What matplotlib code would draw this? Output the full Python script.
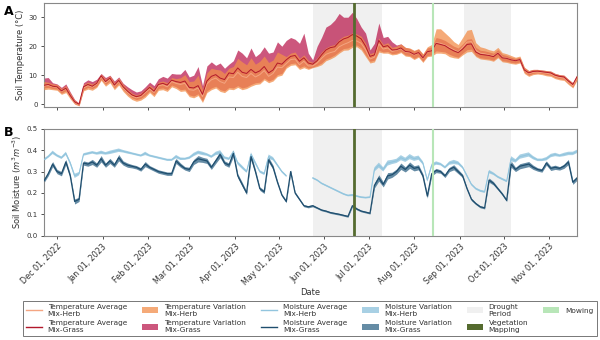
import numpy as np
import pandas as pd
import matplotlib
matplotlib.use("Agg")
import matplotlib.pyplot as plt
import matplotlib.dates as mdates
from matplotlib.lines import Line2D
from matplotlib.patches import Patch

nan = np.nan

# readings every 3 days, starting 22 Nov 2022
dates = pd.date_range("2022-11-22", periods=122, freq="3D")

temp_grass_mean = [
    6.5, 6.8, 6.2, 6.0, 4.6, 5.5, 3.0, 0.8, 0.0, 6.0,
    6.8, 6.2, 7.2, 9.8, 7.8, 9.0, 6.6, 8.2, 6.0, 4.5,
    3.2, 2.6, 3.0, 4.4, 5.8, 4.5, 6.8, 7.2, 6.6, 8.3,
    7.8, 7.5, 8.0, 5.8, 5.6, 6.4, 3.4, 8.0, 9.6, 10.2,
    9.0, 8.5, 10.8, 10.5, 12.5, 11.0, 10.6, 12.0, 10.8, 11.5,
    13.0, 10.8, 11.8, 14.2, 13.8, 15.3, 16.5, 16.8, 14.8, 16.0,
    14.2, 13.8, 15.0, 17.0, 18.7, 19.5, 19.8, 21.5, 22.5, 23.0,
    24.0, 23.5, 22.5, 20.0, 16.5, 17.0, 22.0, 19.8, 20.2, 18.7,
    18.8, 19.4, 18.2, 18.0, 17.2, 17.8, 16.0, 18.1, 18.4, 21.0,
    20.6, 20.2, 19.2, 18.4, 17.8, 19.0, 20.6, 20.8, 18.0, 17.2,
    17.0, 16.8, 16.4, 17.6, 16.0, 15.8, 15.3, 15.0, 15.4, 11.8,
    10.8, 11.3, 11.4, 11.2, 11.0, 10.8, 10.0, 9.6, 9.4, 8.0,
    6.8, 9.6]
temp_grass_lo = [
    5.6, 5.8, 5.4, 5.2, 3.8, 4.6, 2.2, 0.2, -0.4, 5.0,
    5.8, 5.4, 6.2, 8.6, 6.8, 8.0, 5.6, 7.2, 5.0, 3.4,
    2.2, 1.6, 2.0, 3.0, 4.6, 3.2, 5.4, 5.6, 5.0, 6.6,
    6.0, 5.0, 5.2, 3.2, 2.8, 3.6, 1.2, 4.6, 5.6, 6.2,
    5.0, 4.6, 5.8, 5.6, 6.4, 5.6, 6.0, 6.8, 7.4, 7.6,
    9.0, 8.0, 8.6, 10.2, 10.6, 13.0, 14.0, 14.2, 12.6, 13.2,
    12.4, 12.8, 13.4, 14.2, 15.6, 16.2, 17.0, 18.2, 19.2, 19.4,
    20.2, 20.4, 19.4, 17.0, 14.8, 15.2, 18.6, 18.0, 18.2, 17.4,
    17.6, 18.2, 17.0, 16.8, 15.8, 16.6, 14.8, 16.8, 17.0, 18.4,
    18.2, 18.0, 17.2, 16.6, 16.2, 17.6, 18.8, 19.0, 16.8, 16.0,
    15.8, 15.6, 15.2, 16.4, 15.0, 14.8, 14.4, 14.2, 14.6, 11.0,
    10.0, 10.6, 10.8, 10.6, 10.2, 10.0, 9.2, 8.8, 8.6, 7.2,
    6.0, 8.8]
temp_grass_hi = [
    9.0, 9.2, 7.4, 7.0, 5.8, 7.0, 4.2, 1.6, 0.4, 7.4,
    8.4, 7.8, 8.6, 10.6, 9.2, 10.0, 8.0, 9.4, 7.2, 6.0,
    5.0, 4.2, 4.6, 6.0, 7.6, 6.4, 8.8, 9.6, 9.0, 10.6,
    10.4, 10.4, 12.0, 9.4, 10.0, 13.0, 6.4, 13.2, 14.6, 13.4,
    14.2, 12.4, 13.8, 15.0, 18.7, 17.6, 16.0, 19.4, 16.4, 17.6,
    19.8, 17.6, 18.0, 21.5, 20.0, 22.0, 23.0, 22.4, 21.0, 24.5,
    17.6, 15.3, 20.0, 23.0, 26.6, 27.5, 29.0, 31.3, 30.0, 30.0,
    31.7, 29.5, 26.6, 24.5, 18.7, 21.0, 28.0, 23.0, 23.4, 21.5,
    20.4, 20.8, 19.6, 19.2, 18.4, 19.0, 17.2, 19.4, 19.8, 23.0,
    22.6, 22.0, 21.0, 20.0, 19.4, 20.8, 22.4, 22.6, 19.6, 18.6,
    18.4, 18.0, 17.6, 18.8, 17.2, 16.8, 16.2, 15.8, 16.2, 12.6,
    11.6, 12.0, 12.0, 11.8, 11.6, 11.4, 10.6, 10.2, 10.0, 8.6,
    7.4, 10.2]

temp_herb_mean = [
    6.3, 6.5, 6.0, 5.8, 4.4, 5.3, 2.8, 0.6, -0.2, 5.6,
    6.4, 5.9, 6.9, 9.4, 7.4, 8.6, 6.2, 7.8, 5.6, 4.0,
    2.8, 2.2, 2.6, 4.0, 5.3, 4.0, 6.3, 6.7, 6.0, 7.8,
    7.2, 6.8, 7.2, 5.0, 4.8, 5.6, 2.6, 7.0, 8.4, 9.0,
    7.8, 7.2, 9.4, 9.2, 11.0, 9.6, 9.2, 10.6, 9.4, 10.2,
    11.6, 9.6, 10.6, 12.8, 12.6, 14.0, 15.4, 15.6, 13.6, 14.8,
    13.2, 13.2, 14.2, 15.8, 17.2, 17.8, 18.2, 19.8, 20.6, 21.2,
    22.0, 21.8, 21.0, 18.8, 15.6, 16.2, 20.8, 19.0, 19.4, 18.2,
    18.6, 19.2, 18.0, 17.8, 17.0, 17.6, 15.8, 18.0, 18.4, 21.2,
    21.0, 20.4, 19.6, 18.8, 18.0, 19.6, 21.4, 21.6, 18.6, 17.6,
    17.4, 17.0, 16.6, 17.8, 16.2, 15.9, 15.4, 15.0, 15.4, 11.6,
    10.5, 11.0, 11.1, 10.9, 10.7, 10.4, 9.6, 9.2, 9.0, 7.6,
    6.4, 9.2]
temp_herb_lo = [
    5.0, 5.2, 5.0, 4.8, 3.4, 4.0, 1.8, 0.0, -0.6, 4.6,
    5.2, 4.8, 5.8, 8.2, 6.2, 7.4, 5.0, 6.6, 4.4, 2.8,
    1.6, 1.0, 1.4, 2.4, 4.0, 2.6, 4.8, 5.0, 4.4, 6.0,
    5.4, 4.4, 4.6, 2.6, 2.2, 3.0, 0.6, 4.0, 5.0, 5.6,
    4.4, 4.0, 5.2, 5.0, 5.8, 5.0, 5.4, 6.2, 6.8, 7.0,
    8.4, 7.4, 8.0, 9.6, 10.0, 12.4, 13.4, 13.6, 12.0, 12.6,
    12.0, 12.6, 13.0, 13.6, 15.0, 15.6, 16.4, 17.6, 18.6, 18.7,
    19.6, 19.8, 18.7, 16.4, 14.2, 14.6, 18.0, 17.6, 17.6, 17.0,
    17.2, 17.8, 16.6, 16.4, 15.4, 16.2, 14.4, 16.4, 16.6, 17.6,
    17.6, 17.4, 16.4, 16.0, 15.8, 17.0, 18.0, 18.2, 16.4, 15.6,
    15.4, 15.2, 14.8, 16.0, 14.6, 14.4, 14.0, 13.8, 14.2, 10.6,
    9.6, 10.2, 10.4, 10.2, 9.8, 9.6, 8.8, 8.4, 8.2, 6.8,
    5.6, 8.4]
temp_herb_hi = [
    7.8, 7.6, 7.0, 6.8, 5.4, 6.4, 3.8, 1.4, 0.3, 6.8,
    7.6, 7.0, 8.0, 10.4, 8.6, 9.8, 7.4, 9.0, 6.8, 5.2,
    3.8, 3.2, 3.8, 5.2, 6.6, 5.4, 7.6, 8.0, 7.4, 9.2,
    8.8, 9.1, 10.2, 7.8, 8.0, 10.0, 5.0, 10.8, 12.4, 12.0,
    11.8, 10.6, 12.4, 13.0, 15.8, 14.6, 13.6, 16.0, 13.8, 14.8,
    16.6, 14.4, 15.2, 18.0, 17.2, 16.4, 17.6, 18.0, 15.8, 17.0,
    15.0, 14.4, 16.0, 18.0, 19.4, 20.2, 20.6, 22.4, 23.4, 23.8,
    24.6, 24.2, 23.4, 21.0, 17.4, 18.0, 22.8, 20.6, 21.2, 19.6,
    20.0, 20.8, 19.6, 19.4, 18.6, 19.2, 17.4, 19.8, 20.6, 26.0,
    26.0, 24.6, 23.2, 21.6, 20.6, 23.0, 25.5, 25.8, 21.2, 19.8,
    19.4, 18.8, 18.4, 19.6, 17.8, 17.4, 16.8, 16.2, 16.6, 12.8,
    11.6, 12.0, 12.0, 11.8, 11.6, 11.4, 10.6, 10.2, 10.0, 8.6,
    7.4, 10.0]

moist_herb_mean = [
    0.355, 0.37, 0.39, 0.375, 0.365, 0.385, 0.34, 0.28, 0.29, 0.38,
    0.385, 0.39, 0.385, 0.39, 0.385, 0.39, 0.395, 0.40, 0.395, 0.39,
    0.385, 0.38, 0.375, 0.385, 0.375, 0.37, 0.365, 0.36, 0.355, 0.355,
    0.37, 0.36, 0.36, 0.365, 0.38, 0.39, 0.385, 0.38, 0.37, 0.385,
    0.39, 0.365, 0.36, 0.39, 0.34, 0.32, 0.30, 0.38, 0.34, 0.30,
    0.29, 0.37, 0.36, 0.33, 0.30, 0.28, nan, nan, nan, nan,
    nan, 0.27, 0.26, 0.245, 0.235, 0.225, 0.215, 0.205, 0.195, 0.188,
    0.19, 0.185, 0.18, 0.178, 0.18, 0.31, 0.33, 0.31, 0.34, 0.345,
    0.35, 0.365, 0.355, 0.37, 0.36, 0.365, 0.34, 0.26, 0.33, 0.34,
    0.335, 0.32, 0.34, 0.345, 0.34, 0.32, 0.28, 0.24, 0.22, 0.21,
    0.205, 0.30, 0.29, 0.275, 0.265, 0.255, 0.36, 0.35, 0.37, 0.375,
    0.38, 0.365, 0.355, 0.355, 0.36, 0.375, 0.38, 0.375, 0.38, 0.385,
    0.385, 0.395]
moist_herb_sd = [
    0.006, 0.006, 0.008, 0.006, 0.006, 0.008, 0.008, 0.010, 0.008, 0.006,
    0.006, 0.006, 0.006, 0.008, 0.006, 0.008, 0.008, 0.008, 0.006, 0.006,
    0.005, 0.005, 0.005, 0.008, 0.005, 0.005, 0.005, 0.005, 0.005, 0.005,
    0.008, 0.006, 0.005, 0.006, 0.008, 0.008, 0.008, 0.006, 0.006, 0.008,
    0.010, 0.006, 0.006, 0.010, 0.008, 0.008, 0.006, 0.010, 0.008, 0.006,
    0.006, 0.010, 0.008, 0.006, 0.005, 0.005, 0.004, 0.004, 0.004, 0.004,
    0.004, 0.004, 0.004, 0.004, 0.004, 0.004, 0.004, 0.004, 0.004, 0.004,
    0.005, 0.004, 0.004, 0.004, 0.004, 0.010, 0.012, 0.010, 0.012, 0.010,
    0.010, 0.012, 0.010, 0.012, 0.010, 0.010, 0.008, 0.008, 0.008, 0.008,
    0.006, 0.006, 0.008, 0.010, 0.008, 0.006, 0.006, 0.005, 0.005, 0.005,
    0.005, 0.008, 0.006, 0.005, 0.005, 0.005, 0.012, 0.008, 0.010, 0.010,
    0.010, 0.008, 0.006, 0.006, 0.008, 0.008, 0.008, 0.006, 0.008, 0.008,
    0.008, 0.008]

moist_grass_mean = [
    0.255, 0.29, 0.335, 0.30, 0.29, 0.345, 0.28, 0.16, 0.17, 0.34,
    0.335, 0.345, 0.33, 0.36, 0.33, 0.35, 0.33, 0.365, 0.34, 0.33,
    0.325, 0.32, 0.31, 0.335, 0.32, 0.31, 0.30, 0.295, 0.29, 0.29,
    0.35, 0.33, 0.315, 0.31, 0.345, 0.36, 0.355, 0.35, 0.32, 0.35,
    0.38, 0.34, 0.33, 0.385, 0.28, 0.24, 0.20, 0.37, 0.30, 0.22,
    0.205, 0.355, 0.32, 0.25, 0.19, 0.16, 0.30, 0.20, 0.17, 0.14,
    0.135, 0.14, 0.13, 0.12, 0.115, 0.108, 0.104, 0.10, 0.095, 0.09,
    0.14, 0.125, 0.115, 0.11, 0.105, 0.235, 0.27, 0.24, 0.28, 0.285,
    0.30, 0.325, 0.31, 0.33, 0.315, 0.32, 0.28, 0.185, 0.29, 0.305,
    0.30, 0.28, 0.31, 0.32, 0.30, 0.28, 0.22, 0.17, 0.15, 0.135,
    0.13, 0.26, 0.245, 0.22, 0.195, 0.165, 0.335, 0.31, 0.325, 0.33,
    0.335, 0.32, 0.31, 0.305, 0.34, 0.315, 0.32, 0.315, 0.325, 0.345,
    0.25, 0.27]
moist_grass_sd = [
    0.008, 0.010, 0.012, 0.010, 0.010, 0.012, 0.010, 0.012, 0.010, 0.010,
    0.010, 0.012, 0.010, 0.015, 0.010, 0.012, 0.010, 0.015, 0.010, 0.010,
    0.008, 0.008, 0.008, 0.012, 0.008, 0.008, 0.008, 0.008, 0.008, 0.008,
    0.012, 0.010, 0.008, 0.010, 0.012, 0.015, 0.012, 0.012, 0.010, 0.012,
    0.015, 0.010, 0.010, 0.015, 0.010, 0.010, 0.008, 0.015, 0.010, 0.008,
    0.008, 0.012, 0.010, 0.008, 0.006, 0.006, 0.008, 0.006, 0.005, 0.005,
    0.005, 0.005, 0.004, 0.004, 0.004, 0.004, 0.004, 0.004, 0.004, 0.004,
    0.006, 0.005, 0.004, 0.004, 0.004, 0.012, 0.015, 0.012, 0.015, 0.012,
    0.012, 0.015, 0.012, 0.015, 0.012, 0.012, 0.010, 0.010, 0.010, 0.010,
    0.008, 0.008, 0.010, 0.012, 0.010, 0.008, 0.006, 0.006, 0.005, 0.005,
    0.005, 0.010, 0.008, 0.006, 0.006, 0.006, 0.015, 0.010, 0.012, 0.012,
    0.012, 0.010, 0.008, 0.008, 0.010, 0.010, 0.010, 0.008, 0.010, 0.012,
    0.010, 0.010]

drought_periods = [("2023-05-24", "2023-07-10"), ("2023-09-04", "2023-10-06")]
vegetation_mapping = "2023-06-21"
mowing = "2023-08-14"

# colours
c_th_line = "#f4a582"
c_tg_line = "#b2182b"
c_th_fill = "#f28e4b"
c_tg_fill = "#b5083f"
c_mh_line = "#92c5de"
c_mg_line = "#1f4e6e"
c_mh_fill = "#92c5de"
c_mg_fill = "#3f6f8f"
c_drought = "#f0f0f0"
c_veg = "#556b2f"
c_mow = "#b8e6b8"

plt.rcParams["font.family"] = "DejaVu Sans"

fig = plt.figure(figsize=(6.0, 3.4), dpi=100)
axA = fig.add_axes([0.073, 0.685, 0.889, 0.307])
axB = fig.add_axes([0.073, 0.307, 0.889, 0.314], sharex=axA)

mh = np.array(moist_herb_mean)
mg = np.array(moist_grass_mean)
mh_sd = np.array(moist_herb_sd)
mg_sd = np.array(moist_grass_sd)

for ax in (axA, axB):
    for start, end in drought_periods:
        ax.axvspan(pd.Timestamp(start), pd.Timestamp(end), color=c_drought, lw=0, zorder=0)
    ax.axvline(pd.Timestamp(vegetation_mapping), color=c_veg, lw=2.0, zorder=5)
    ax.axvline(pd.Timestamp(mowing), color=c_mow, lw=1.5, zorder=5)

# panel A: temperature
axA.fill_between(dates, temp_grass_lo, temp_grass_hi, color=c_tg_fill, alpha=0.68, lw=0, zorder=2)
axA.fill_between(dates, temp_herb_lo, temp_herb_hi, color=c_th_fill, alpha=0.75, lw=0, zorder=3)
axA.plot(dates, temp_herb_mean, color=c_th_line, lw=0.7, zorder=4)
axA.plot(dates, temp_grass_mean, color=c_tg_line, lw=0.7, zorder=4)
axA.set_ylim(-1, 35)
axA.set_yticks([0, 10, 20, 30])
axA.set_ylabel("Soil Temperature (°C)", fontsize=6, color="#333333", labelpad=2.5)
axA.tick_params(axis="x", labelbottom=False)

# panel B: moisture
axB.fill_between(dates, mh - mh_sd, mh + mh_sd, color=c_mh_fill, alpha=0.8, lw=0, zorder=2)
axB.fill_between(dates, mg - mg_sd, mg + mg_sd, color=c_mg_fill, alpha=0.8, lw=0, zorder=2)
axB.plot(dates, mh, color=c_mh_line, lw=0.8, zorder=4)
axB.plot(dates, mg, color=c_mg_line, lw=0.9, zorder=4)
axB.set_ylim(0, 0.5)
axB.set_yticks([0, 0.1, 0.2, 0.3, 0.4, 0.5])
axB.set_ylabel(r"Soil Moisture ($m^3m^{-3}$)", fontsize=6, color="#333333", labelpad=1.5)
axB.set_xlabel("Date", fontsize=6, color="#333333", labelpad=1)

axB.set_xlim(dates[0], dates[-1])
axB.xaxis.set_major_locator(mdates.MonthLocator())
axB.xaxis.set_major_formatter(mdates.DateFormatter("%b %d, %Y"))

for ax in (axA, axB):
    ax.tick_params(labelsize=5, length=2.5, width=0.6, colors="#333333", pad=2)
    for s in ax.spines.values():
        s.set_color("#888888")
        s.set_linewidth(0.8)

axB.tick_params(axis="x", labelsize=5.8)
for lab in axB.get_xticklabels():
    lab.set_rotation(45)
    lab.set_ha("right")
    lab.set_rotation_mode("anchor")

fig.text(0.006, 0.955, "A", fontsize=9, fontweight="bold")
fig.text(0.006, 0.6, "B", fontsize=9, fontweight="bold")

handles = [
    Line2D([], [], color=c_th_line, lw=1),
    Line2D([], [], color=c_tg_line, lw=1),
    Patch(color=c_th_fill, alpha=0.75, lw=0),
    Patch(color=c_tg_fill, alpha=0.68, lw=0),
    Line2D([], [], color=c_mh_line, lw=1),
    Line2D([], [], color=c_mg_line, lw=1),
    Patch(color=c_mh_fill, alpha=0.8, lw=0),
    Patch(color=c_mg_fill, alpha=0.8, lw=0),
    Patch(color=c_drought, lw=0),
    Patch(color=c_veg, lw=0),
    Patch(color=c_mow, lw=0),
]
labels = [
    "Temperature Average\nMix-Herb", "Temperature Average\nMix-Grass",
    "Temperature Variation\nMix-Herb", "Temperature Variation\nMix-Grass",
    "Moisture Average\nMix-Herb", "Moisture Average\nMix-Grass",
    "Moisture Variation\nMix-Herb", "Moisture Variation\nMix-Grass",
    "Drought\nPeriod", "Vegetation\nMapping",
    "Mowing",
]
leg = fig.legend(handles, labels, ncol=6, loc="lower center", bbox_to_anchor=(0.516, 0.0),
                 fontsize=5.3, frameon=True, fancybox=False, edgecolor="#555555",
                 handlelength=2.2, handleheight=0.9, columnspacing=2.05, labelspacing=0.5,
                 borderpad=0.4)
leg.get_frame().set_linewidth(0.7)
for t in leg.get_texts():
    t.set_color("#333333")

fig.savefig("out.png", dpi=100)
